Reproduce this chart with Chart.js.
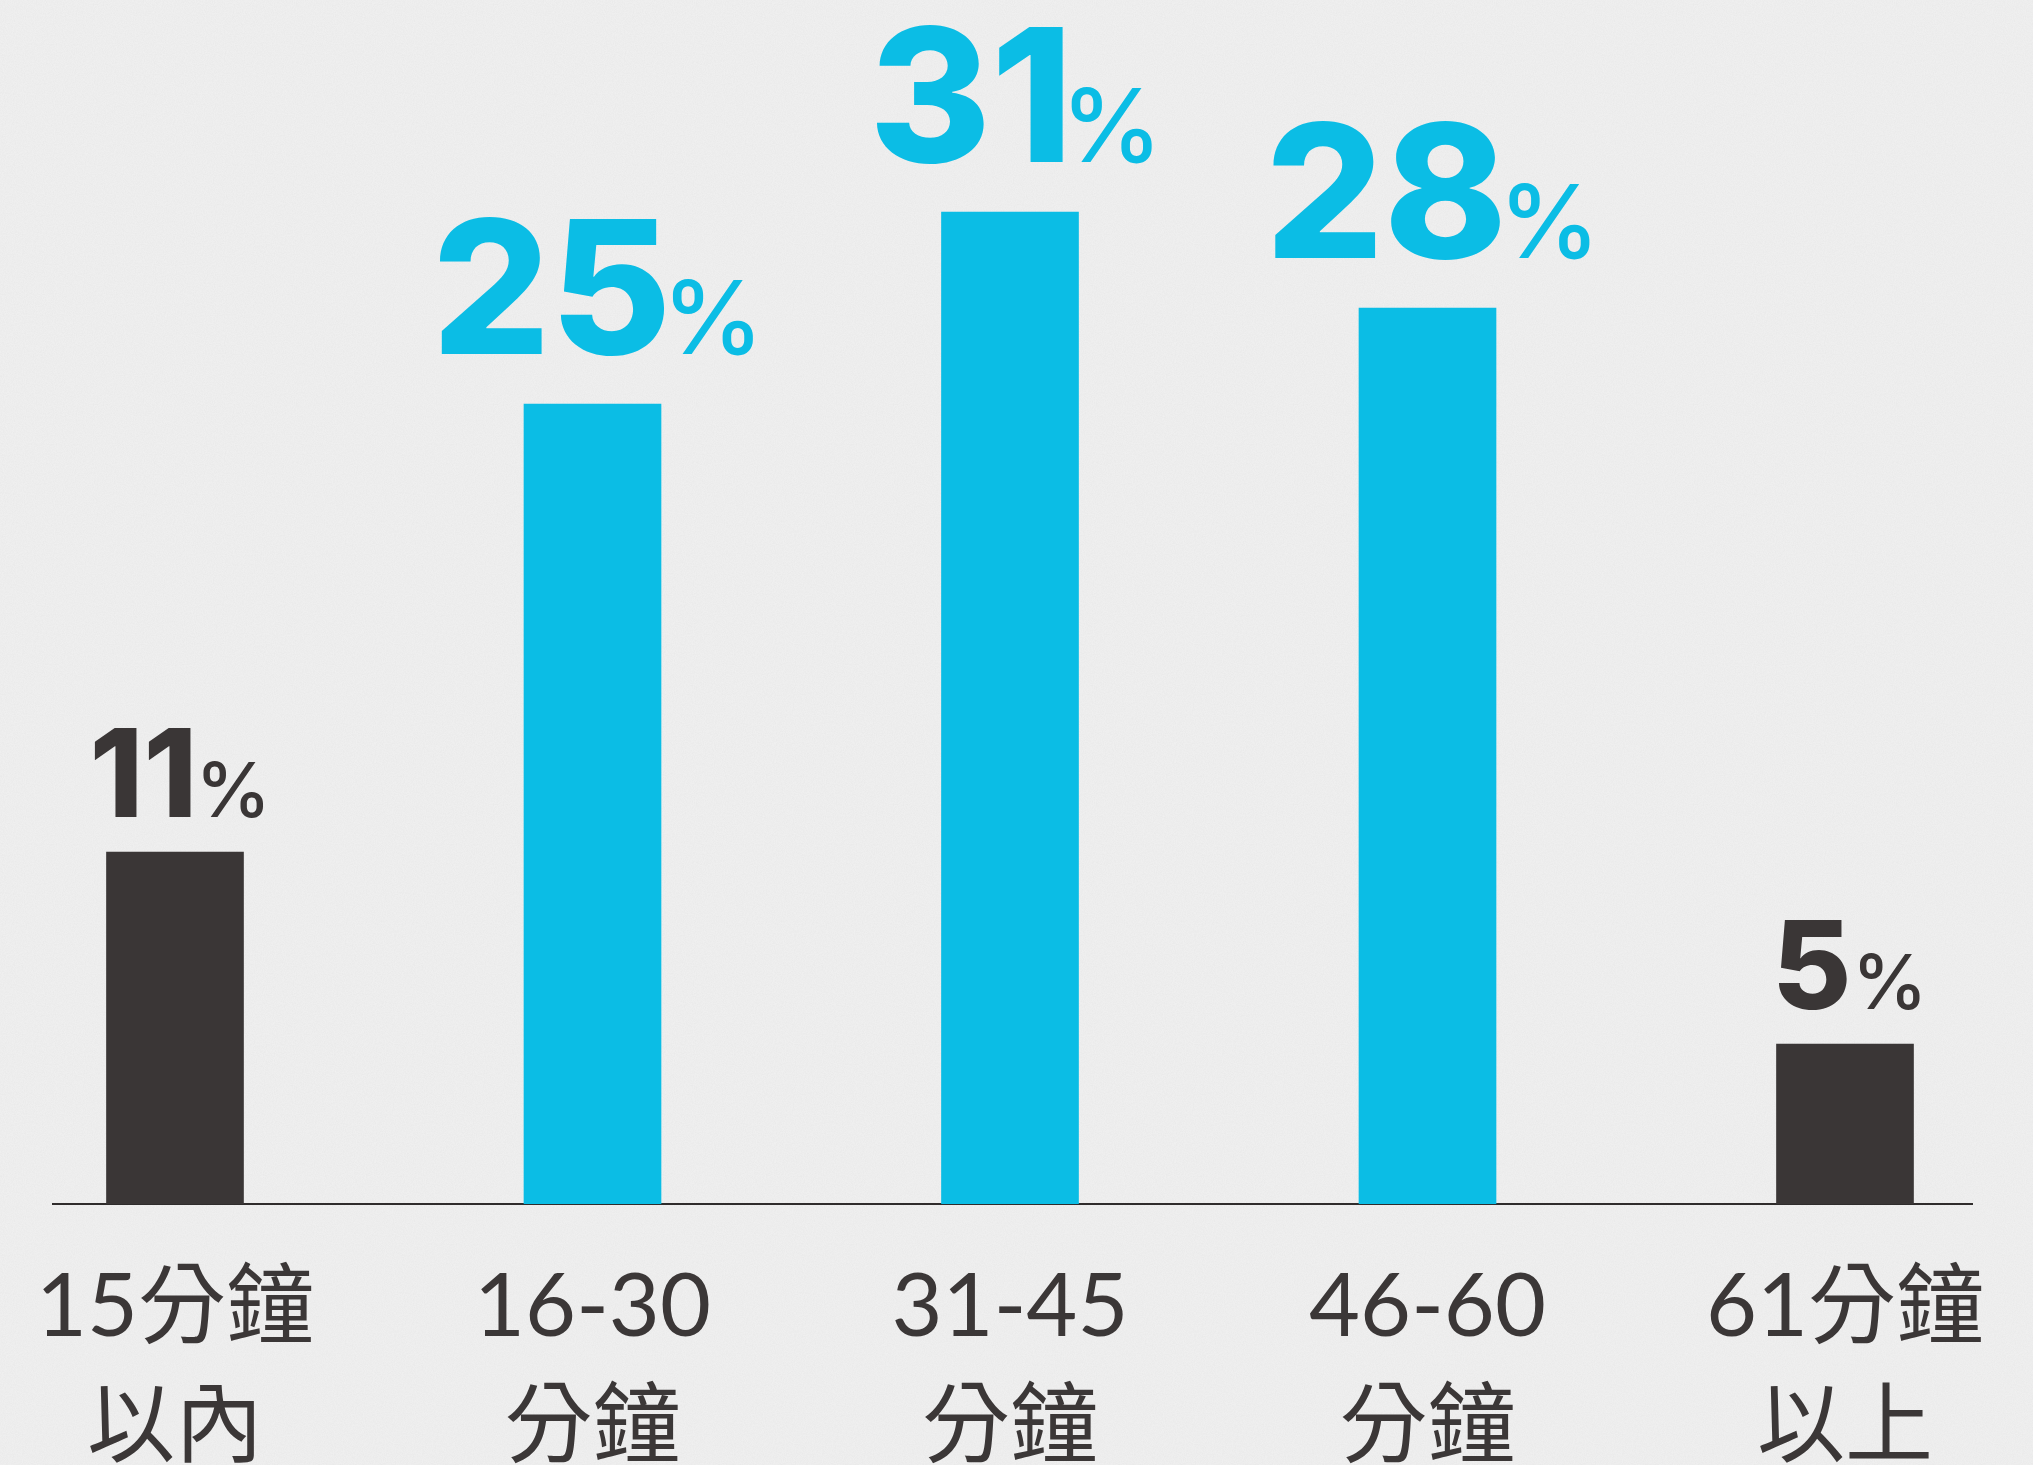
<!DOCTYPE html>
<html>
<head>
<meta charset="utf-8">
<script src="https://cdn.jsdelivr.net/npm/chart.js@4.4.1/dist/chart.umd.min.js"></script>
<style>
html,body{margin:0;padding:0;}
body{
  width:2033px;height:1465px;overflow:hidden;
  background-color:#f1f1f1;
  background-image:url("data:image/svg+xml;utf8,<svg xmlns='http://www.w3.org/2000/svg' width='400' height='400'><filter id='n'><feTurbulence type='fractalNoise' baseFrequency='0.9' numOctaves='3' seed='4'/><feColorMatrix values='0 0 0 0 0.45 0 0 0 0 0.45 0 0 0 0 0.45 0 0 0 0.13 0'/></filter><rect width='100%' height='100%' filter='url(%23n)'/></svg>");
}
#wrap{position:relative;width:2033px;height:1465px;}
</style>
</head>
<body>
<div id="wrap"><canvas id="myChart"></canvas></div>
<script>
// data
var categories=[["15分鐘","以內"],["16-30","分鐘"],["31-45","分鐘"],["46-60","分鐘"],["61分鐘","以上"]];
var shares=[11,25,31,28,5]; // percent
var yTicks=[0,36]; // value range of the hidden y axis

var blue='#0bbde5';
var dark='#3a3636';
var barColors=[dark,blue,blue,blue,dark];

var valueLabels={
  id:'valueLabels',
  afterDatasetsDraw:function(chart)
  {
    var ctx=chart.ctx;
    var meta=chart.getDatasetMeta(0);
    meta.data.forEach(function(bar,i)
    {
      var big=(barColors[i]==blue);
      var numFont=big?'800 186px Inter':'800 122px Inter';
      var pctFont=big?'500 102px Inter':'500 76px Inter';
      var gap=big?50:35;
      var num=String(shares[i]);
      ctx.save();
      ctx.fillStyle=barColors[i];
      ctx.textAlign='left';
      ctx.textBaseline='alphabetic';
      ctx.font=numFont;
      var m1=ctx.measureText(num);
      ctx.font=pctFont;
      var m2=ctx.measureText('%');
      // ink widths, so the gap between number and % is even
      var w1=m1.actualBoundingBoxLeft+m1.actualBoundingBoxRight;
      var w2=m2.actualBoundingBoxLeft+m2.actualBoundingBoxRight;
      var space=big?8:12;
      var left=bar.x+4-(w1+space+w2)/2;
      var y=bar.y-gap;
      ctx.font=numFont;
      ctx.fillText(num,left+m1.actualBoundingBoxLeft,y);
      ctx.font=pctFont;
      ctx.fillText('%',left+w1+space+m2.actualBoundingBoxLeft,y);
      ctx.restore();
    });
  }
};

function createChart()
{
  var ctx=document.getElementById("myChart");
  var myChart=new Chart(ctx,{
    type:'bar',
    data:{
      datasets:[{
        data:shares.map(function(v,i){return {x:i,y:v};}),
        backgroundColor:barColors,
        borderWidth:0,
        barThickness:137
      }]
    },
    options:{
      responsive:true,
      maintainAspectRatio:false,
      devicePixelRatio:1,
      animation:false,
      events:[],
      layout:{padding:{left:53,right:61,top:52,bottom:0}},
      plugins:{legend:{display:false},tooltip:{enabled:false}},
      scales:{
        x:{
          type:'linear',
          offset:false,
          min:-0.2922,
          max:4.3042,
          afterBuildTicks:function(axis){ axis.ticks=categories.map(function(c,i){return {value:i};}); },
          afterFit:function(axis){ axis.height=261; },
          grid:{display:true,offset:false,drawOnChartArea:false,drawTicks:true,tickLength:44,color:'rgba(0,0,0,0)'},
          border:{display:true,color:'#2f2c2c',width:2},
          ticks:{
            padding:0,
            autoSkip:false,
            maxRotation:0,
            color:'#3b3737',
            font:{family:"Lato, 'Noto Sans CJK TC', sans-serif",size:88,lineHeight:1.35},
            callback:function(value){ return categories[value]; }
          }
        },
        y:{
          display:false,
          min:yTicks[0],
          max:yTicks[1]
        }
      }
    },
    plugins:[valueLabels]
  });
}

createChart();
</script>
</body>
</html>
